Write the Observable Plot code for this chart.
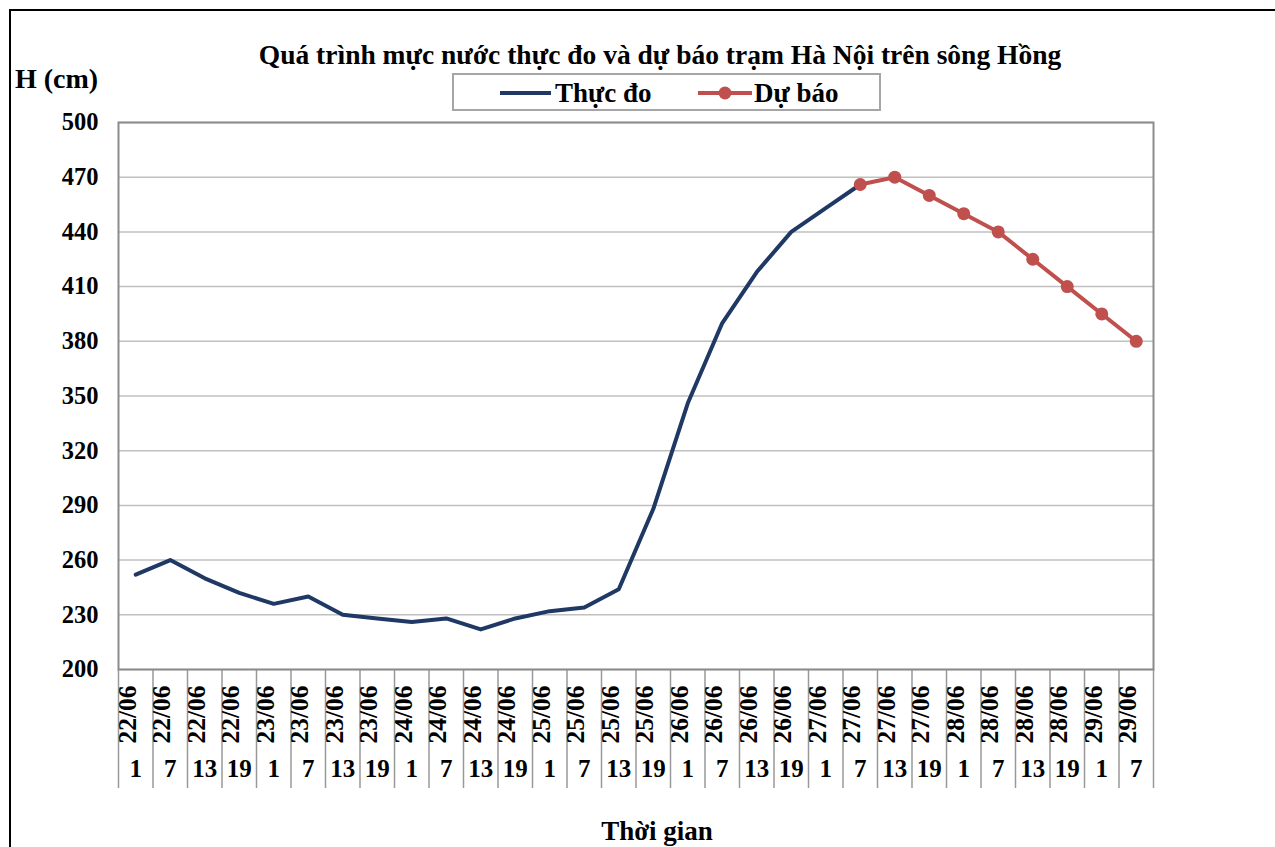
<!DOCTYPE html>
<html>
<head>
<meta charset="utf-8">
<script src="https://cdn.jsdelivr.net/npm/d3@7"></script>
<script src="https://cdn.jsdelivr.net/npm/@observablehq/plot@0.6"></script>
<style>
  html, body { margin: 0; padding: 0; background: #fff; overflow: hidden; }
  #wrap { position: relative; width: 1275px; height: 847px; font-family: "Liberation Serif", "Times New Roman", serif; font-weight: bold; color: #000; }
  #border { position: absolute; left: 9px; top: 9px; width: 1400px; height: 1000px; border: 2px solid #000; box-sizing: border-box; }
  #chart { position: absolute; left: 0; top: 0; }
  .lbl { position: absolute; white-space: nowrap; line-height: 1; }
  #legend { position: absolute; left: 452px; top: 73px; width: 429px; height: 38px; border: 2px solid #a6a6a6; box-sizing: border-box; background: #fff; }
</style>
</head>
<body>
<div id="wrap">
  <div id="border"></div>
  <div id="chart"></div>
  <div class="lbl" id="title" style="left:660px; top:41px; font-size:27.5px; transform:translateX(-50%);">Quá trình mực nước thực đo và dự báo trạm Hà Nội trên sông Hồng</div>
  <div class="lbl" id="ylab" style="left:15px; top:65px; font-size:28px;">H (cm)</div>
  <div id="legend">
    <svg width="425" height="34" style="position:absolute;left:0;top:0;">
      <line x1="46" x2="97" y1="18" y2="18" stroke="#1F3864" stroke-width="4"/>
      <text x="101" y="27" font-size="27" font-weight="bold" font-family="Liberation Serif">Thực đo</text>
      <line x1="244" x2="298" y1="18" y2="18" stroke="#C0504D" stroke-width="4"/>
      <circle cx="271" cy="18" r="6.5" fill="#C0504D"/>
      <text x="300" y="27" font-size="27" font-weight="bold" font-family="Liberation Serif">Dự báo</text>
    </svg>
  </div>
  <div class="lbl" id="xlab" style="left:657px; top:818px; font-size:27px; transform:translateX(-50%);">Thời gian</div>
</div>
<script>
// ---- data ----
const dates = ["22/06","22/06","22/06","22/06","23/06","23/06","23/06","23/06","24/06","24/06","24/06","24/06",
  "25/06","25/06","25/06","25/06","26/06","26/06","26/06","26/06","27/06","27/06","27/06","27/06",
  "28/06","28/06","28/06","28/06","29/06","29/06"];
const hours = ["1","7","13","19","1","7","13","19","1","7","13","19","1","7","13","19",
  "1","7","13","19","1","7","13","19","1","7","13","19","1","7"];
const observed = [252,260,250,242,236,240,230,228,226,228,222,228,232,234,244,288,346,390,418,440,453,466];
const forecastStart = 21;
const forecast = [466,470,460,450,440,425,410,395,380];
const yTicks = [200,230,260,290,320,350,380,410,440,470,500];

const slots = dates.map((d, i) => ({i, date: d, hour: hours[i]}));
const obsData = observed.map((v, i) => ({i, v}));
const fcData = forecast.map((v, k) => ({i: forecastStart + k, v}));
const bounds = d3.range(dates.length + 1).map(k => k - 0.5);

const chart = Plot.plot({
  width: 1275,
  height: 847,
  marginLeft: 118,
  marginRight: 122,
  marginTop: 122,
  marginBottom: 178,
  x: {type: "linear", domain: [-0.5, dates.length - 0.5], axis: null},
  y: {domain: [200, 500], axis: null},
  style: {fontFamily: "Liberation Serif, Times New Roman, serif", background: "transparent", overflow: "visible"},
  marks: [
    Plot.gridY(yTicks, {stroke: "#c0c0c0", strokeOpacity: 1, strokeWidth: 1.5}),
    Plot.axisY({ticks: yTicks, label: null, tickSize: 0, tickPadding: 20, fontSize: 24.5, fontWeight: "bold", fill: "#000"}),
    Plot.axisX({ticks: bounds, label: null, tickSize: 119, tickFormat: () => "", stroke: "#999", strokeWidth: 1.5, strokeOpacity: 1}),
    Plot.frame({stroke: "#8c8c8c", strokeWidth: 2}),
    Plot.line(obsData, {x: "i", y: "v", stroke: "#1F3864", strokeWidth: 4}),
    Plot.line(fcData, {x: "i", y: "v", stroke: "#C0504D", strokeWidth: 4}),
    Plot.dot(fcData, {x: "i", y: "v", r: 6.5, fill: "#C0504D"}),
    Plot.text(slots, {x: "i", text: "date", frameAnchor: "bottom", rotate: -90, textAnchor: "end", dy: 16, fontSize: 25.5, fontWeight: "bold", fill: "#000"}),
    Plot.text(slots, {x: "i", text: "hour", frameAnchor: "bottom", dy: 107, fontSize: 25, fontWeight: "bold", fill: "#000"})
  ]
});
document.getElementById("chart").appendChild(chart);
</script>
</body>
</html>
